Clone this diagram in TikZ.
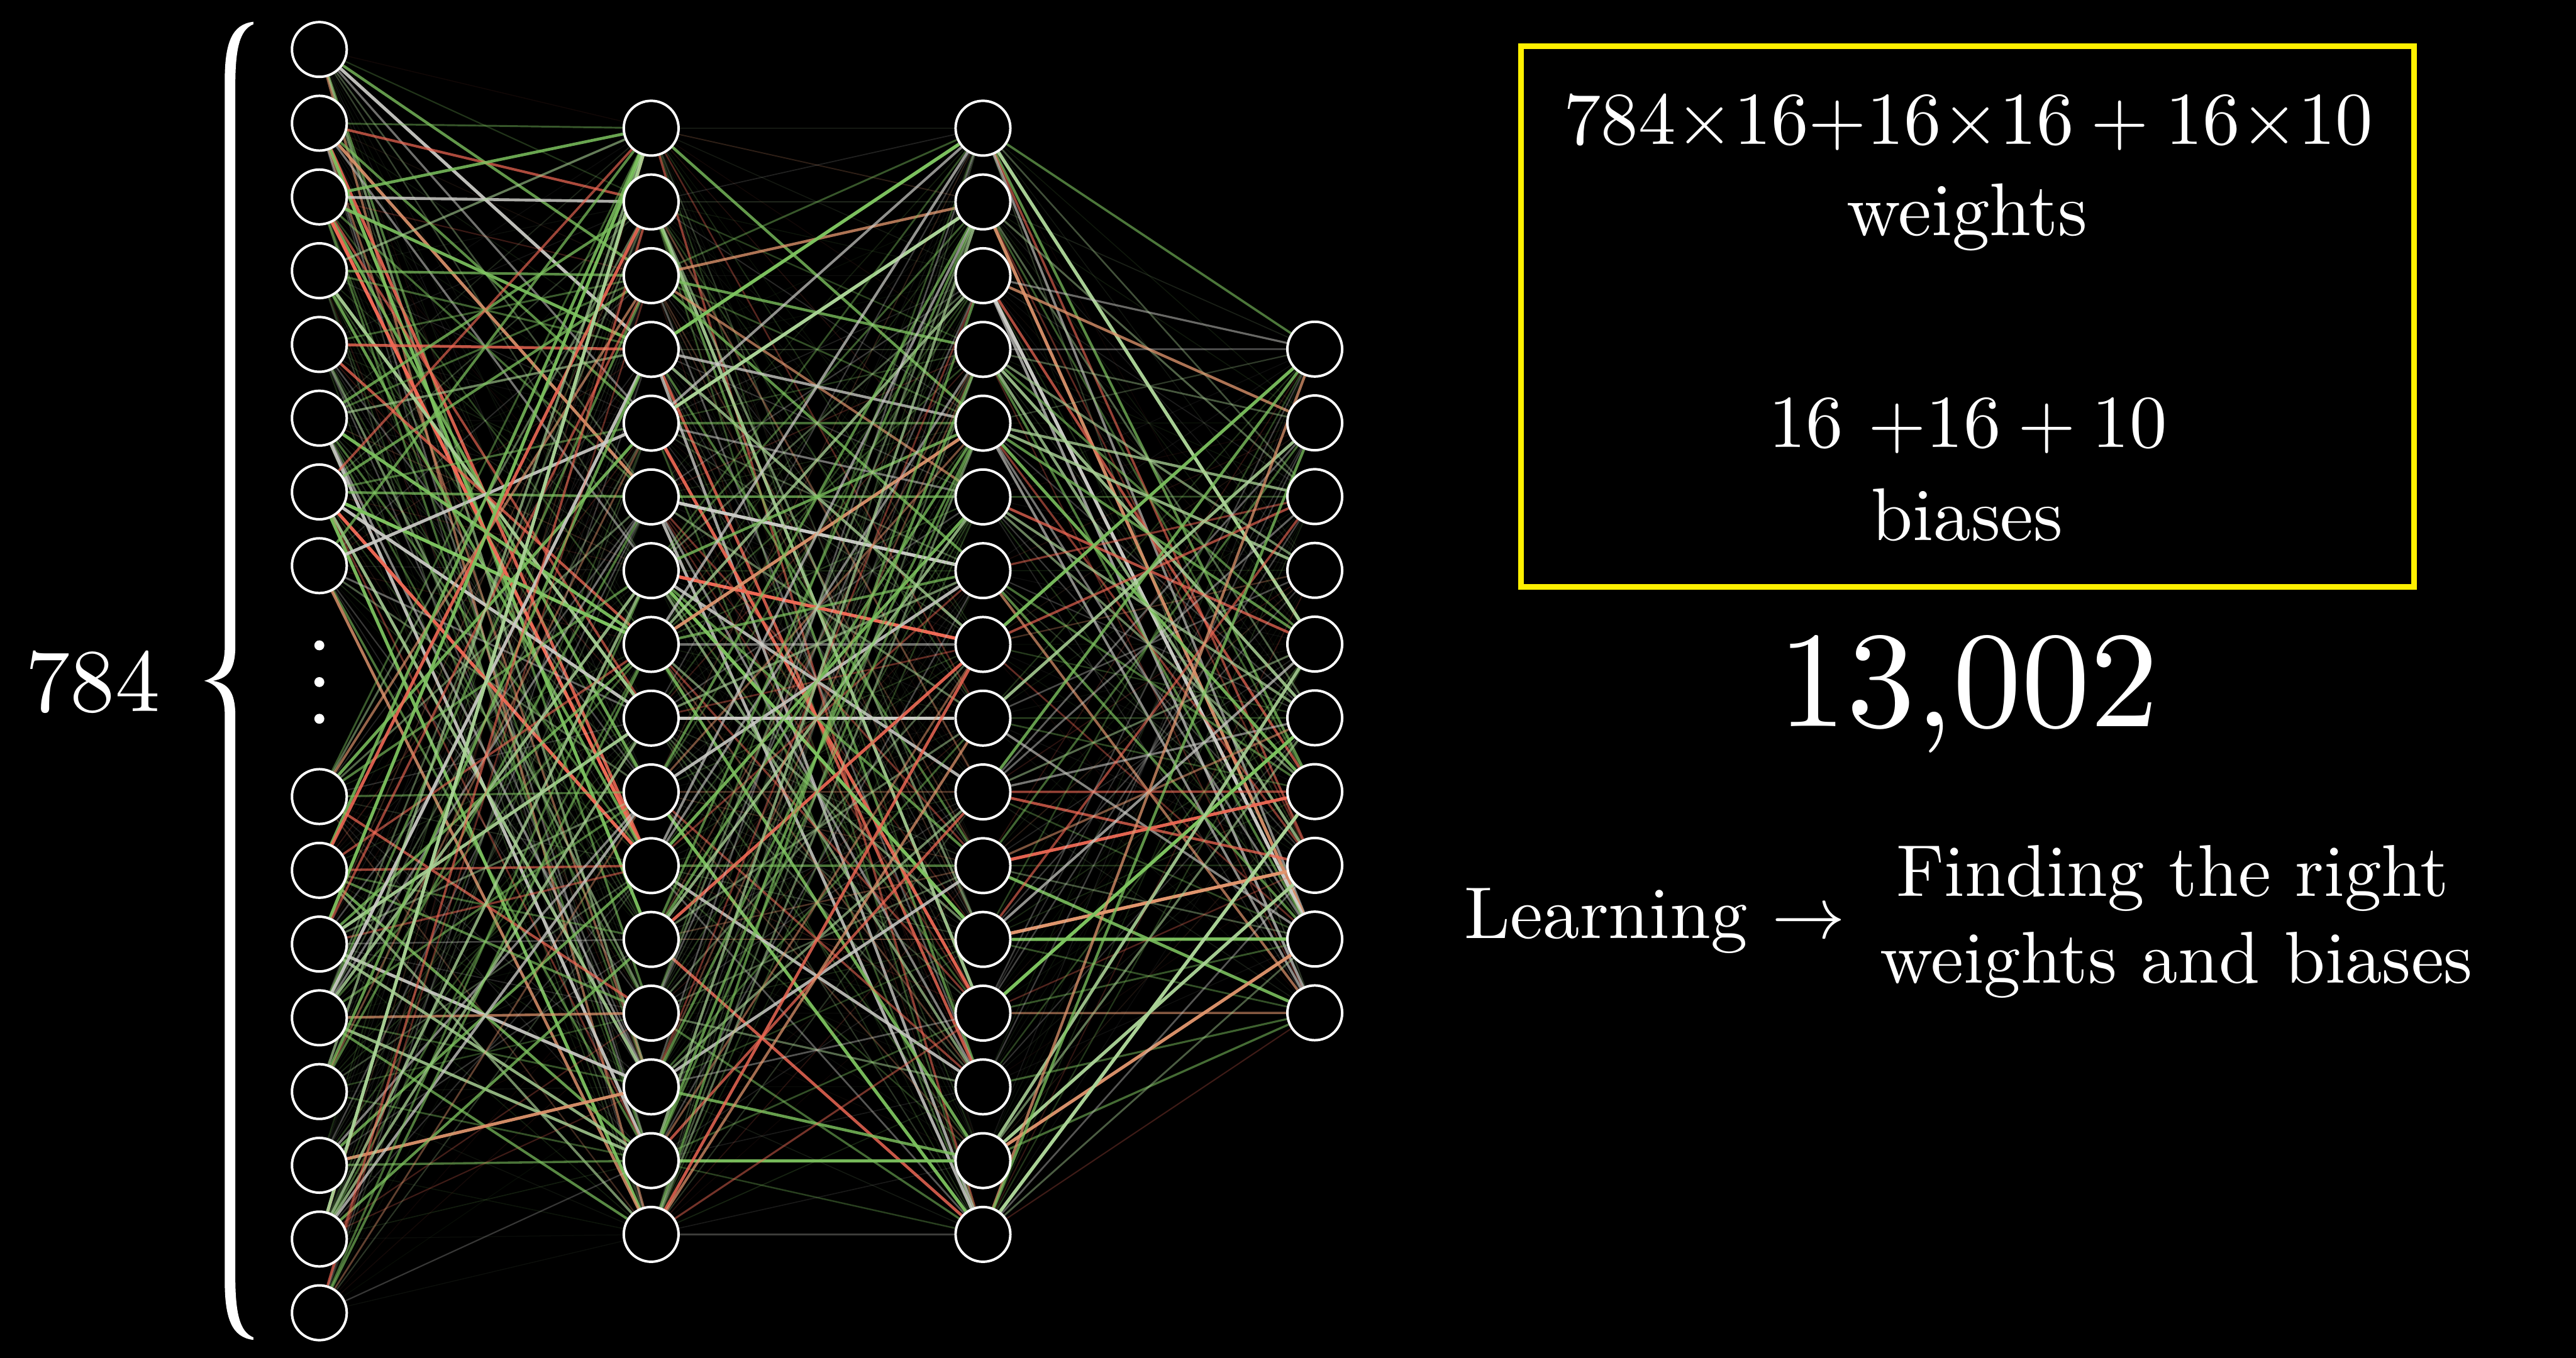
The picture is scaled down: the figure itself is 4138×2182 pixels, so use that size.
\documentclass[tikz,border=0pt]{standalone}
\usepackage{fix-cm}
\usepackage{fontspec}
\setmainfont{lmroman10-regular.otf}
\definecolor{eG}{RGB}{125,195,95}
\definecolor{eH}{RGB}{170,210,150}
\definecolor{eW}{RGB}{205,205,200}
\definecolor{eR}{RGB}{240,105,85}
\definecolor{eO}{RGB}{225,150,110}
\definecolor{yel}{RGB}{255,240,0}
\pgfdeclarelayer{back}
\pgfdeclarelayer{edges}
\pgfsetlayers{back,edges,main}
\newcommand\pickcol{%
  \pgfmathtruncatemacro\ecn{rnd*20}%
  \ifnum\ecn<7 \def\ecol{eG}\else\ifnum\ecn<11 \def\ecol{eH}\else\ifnum\ecn<15 \def\ecol{eW}\else\ifnum\ecn<18 \def\ecol{eR}\else\def\ecol{eO}\fi\fi\fi\fi
  \pgfmathsetmacro\eop{0.06+0.94*pow(rnd,2.0)}%
  \pgfmathsetmacro\ewd{0.25+1.1*\eop}%
}
\newcommand\bsp{\hspace{0.222em}}
\tikzset{
  neuron/.style={circle, draw=white, line width=1pt, fill=black, minimum size=22pt, inner sep=0pt},
  dotn/.style={circle, fill=white, minimum size=4pt, inner sep=0pt},
  txt/.style={text=white, inner sep=0pt, anchor=base, font=\fontsize{30}{36}\selectfont},
  edge/.style={draw=\ecol, draw opacity=\eop, line width=\ewd pt},
}
\begin{document}
\begin{tikzpicture}[x=0.25pt,y=-0.25pt]
\useasboundingbox (0,0) rectangle (4138,2182);
\begin{pgfonlayer}{back}
\fill[black] (0,0) rectangle (4138,2182);
\end{pgfonlayer}

% neurons
\foreach \k in {1,...,8} \node[neuron] (i\k) at (513,{79.5+(\k-1)*118.5}) {};
\foreach \k in {9,...,16} \node[neuron] (i\k) at (513,{1280+(\k-9)*118.5}) {};
\foreach \k in {1,...,16} \node[neuron] (h\k) at (1046,{206+(\k-1)*118.5}) {};
\foreach \k in {1,...,16} \node[neuron] (g\k) at (1579,{206+(\k-1)*118.5}) {};
\foreach \k in {1,...,10} \node[neuron] (o\k) at (2112,{561+(\k-1)*118.5}) {};
\node[dotn] (d1) at (513,1037) {};
\node[dotn] (d2) at (513,1096) {};
\node[dotn] (d3) at (513,1155) {};

% edges
\pgfmathsetseed{7}
\begin{pgfonlayer}{edges}
\foreach \i in {1,...,16}{\foreach \j in {1,...,16}{\pickcol\draw[edge] (i\i) -- (h\j);}}
\foreach \i in {1,...,16}{\foreach \j in {1,...,16}{\pickcol\draw[edge] (h\i) -- (g\j);}}
\foreach \i in {1,...,16}{\foreach \j in {1,...,10}{\pickcol\draw[edge] (g\i) -- (o\j);}}
\end{pgfonlayer}

% brace
\fill[white] (407,35) .. controls (372,39) and (361,70) .. (361,130)
  -- (361,1040) .. controls (361,1072) and (350,1088) .. (328,1094)
  .. controls (350,1100) and (361,1116) .. (361,1148)
  -- (361,2058) .. controls (361,2118) and (372,2149) .. (407,2153)
  -- (407,2149) .. controls (385,2140) and (378,2110) .. (378,2050)
  -- (378,1150) .. controls (378,1110) and (365,1098) .. (342,1094)
  .. controls (365,1090) and (378,1078) .. (378,1038)
  -- (378,138) .. controls (378,78) and (385,48) .. (407,39) -- cycle;
\node[txt, font=\fontsize{36}{42}\selectfont] (n784) at (149,1143) {784};

% box
\draw[yel, line width=2.25pt] (2443,74) rectangle (3878,943);
\node[txt] (wf) at (3162,232) {784$\times$16+16$\times$16\bsp+\bsp16$\times$10};
\node[txt] (wl) at (3160,378) {weights};
\node[txt] (bf) at (3161,719) {16\ +16\bsp+\bsp10};
\node[txt] (bl) at (3160,868) {biases};
\node[txt, font=\fontsize{55}{64}\selectfont] (tot) at (3162,1167) {13,002};

% learning
\node[txt, anchor=base west, font=\fontsize{29.5}{35}\selectfont] (lrn) at (2352,1508) {Learning $\rightarrow$};
\node[txt, font=\fontsize{29.5}{35}\selectfont] (fr1) at (3490,1440) {Finding the right};
\node[txt, font=\fontsize{29.5}{35}\selectfont] (fr2) at (3496,1580) {weights and biases};
\end{tikzpicture}
\end{document}
